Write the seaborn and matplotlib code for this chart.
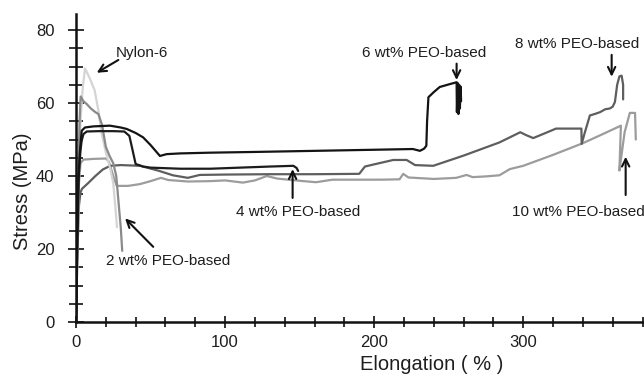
import numpy as np
import pandas as pd
import matplotlib
matplotlib.use("Agg")
import matplotlib.pyplot as plt
from matplotlib.ticker import MultipleLocator
import seaborn as sns

# Stress-strain curves: elongation (%) and stress (MPa) for each sample
nylon_x = [0, 1, 2, 3, 4.5, 6, 9, 12.5, 15, 17, 20, 23, 25, 26.5, 27.5]
nylon_y = [0, 18, 40, 55, 64, 69.5, 67, 63.5, 58, 52, 46.5, 42, 38, 31, 26]

peo2_x = [0, 0.8, 1.6, 2.4, 3.1, 5, 7, 10, 13, 15, 17.5, 20, 22.5, 25, 27, 28.5, 30, 31]
peo2_y = [0, 20, 42, 55, 61.8, 60.5, 59.8, 58.5, 57.5, 57, 54, 48, 45.5, 43.5, 40, 33, 26, 19.5]

peo4_x = [0, 0.8, 1.8, 3, 3.8, 5, 7.2, 15, 25, 32.4, 35.8, 38, 40, 45, 50, 70, 90,
          110, 130, 145.8, 148, 149]
peo4_y = [0, 20, 40, 47, 49.7, 51.5, 52.2, 52.3, 52.3, 52.2, 51, 47, 43.3, 42.6, 42.3,
          42, 42, 42.3, 42.6, 42.8, 42.2, 41.4]

peo6_x = [0, 0.8, 1.6, 2.5, 3.8, 6, 11.6, 22.8, 30, 34, 40, 45, 50, 56.3, 60.8, 70, 90,
          120, 160, 200, 226, 230.7, 233.5, 235, 235.5, 236.4, 240, 244, 250, 255.3,
          255.5, 256, 256.5, 257, 257.5, 258, 258.3]
peo6_y = [0, 20, 38, 46, 52.4, 53.3, 53.6, 53.8, 53.3, 52.9, 51.8, 50.6, 48.5, 45.5, 46,
          46.2, 46.4, 46.6, 46.9, 47.2, 47.4, 46.9, 47.5, 48.3, 55, 61.6, 63, 64.4, 65.1,
          65.7, 57.5, 65.5, 57, 65, 58.5, 64.5, 60.5]

peo8_x = [0, 1, 2, 3, 4, 8, 13, 18, 23, 30, 43, 55, 65, 75, 83, 100, 130, 160, 190,
          193.8, 200, 212.8, 221.8, 227.4, 239.6, 260, 284, 291, 298, 302, 306.7, 315,
          322, 339, 339.2, 341, 344.7, 348, 351.5, 355, 358, 360, 361.5, 363, 364.5,
          366, 367, 367]
peo8_y = [0, 20, 32, 35.5, 36.5, 38, 40, 41.8, 42.8, 43, 42.8, 41.5, 40.2, 39.5, 40.3,
          40.4, 40.5, 40.5, 40.6, 42.6, 43.2, 44.4, 44.4, 43, 42.8, 45.6, 49.2, 50.6, 52,
          51.2, 50.4, 51.8, 53, 53, 48.8, 51.5, 56.6, 57, 57.5, 58.3, 58.5, 59, 60.3, 65,
          67.3, 67.5, 65, 61]

peo10_x = [0, 1, 2, 3, 5, 12, 20, 22, 25, 27.3, 35, 43, 50, 57, 62, 75, 90, 100, 112,
           120, 128, 135, 150, 161, 172, 190, 205, 217, 219.5, 223, 240, 255, 262, 266,
           275, 284, 291, 300, 320, 340, 355, 365.5, 364.5, 366, 368, 371.5, 375, 375.5]
peo10_y = [0, 22, 38, 43.5, 44.5, 44.7, 44.8, 44, 40, 37.3, 37.3, 37.8, 38.6, 39.5, 38.9,
           38.5, 38.6, 38.8, 38.2, 38.8, 40, 39.3, 38.7, 38.3, 39, 39, 39, 39.1, 40.6,
           39.6, 39.2, 39.5, 40.3, 39.7, 39.9, 40.2, 41.9, 42.8, 45.8, 49, 51.8, 53.8,
           41.5, 46, 52, 57.3, 57.3, 50]

series = {
    "10 wt% PEO-based": (peo10_x, peo10_y),
    "8 wt% PEO-based": (peo8_x, peo8_y),
    "Nylon-6": (nylon_x, nylon_y),
    "2 wt% PEO-based": (peo2_x, peo2_y),
    "4 wt% PEO-based": (peo4_x, peo4_y),
    "6 wt% PEO-based": (peo6_x, peo6_y),
}
colors = {
    "10 wt% PEO-based": "#9c9c9c",
    "8 wt% PEO-based": "#5e5e5e",
    "Nylon-6": "#d4d4d4",
    "2 wt% PEO-based": "#8a8a8a",
    "4 wt% PEO-based": "#1c1c1c",
    "6 wt% PEO-based": "#141414",
}

frames = []
for name, (xs, ys) in series.items():
    frames.append(pd.DataFrame({"Elongation": xs, "Stress": ys, "Sample": name}))
df = pd.concat(frames, ignore_index=True)

sns.set_theme(style="ticks")
plt.rcParams["font.family"] = ["Liberation Sans", "DejaVu Sans"]
text_color = "#1e1e1e"

fig = plt.figure(figsize=(6.44, 3.81), dpi=100)
ax = fig.add_axes([76 / 644, 59 / 381, 568 / 644, 308 / 381])

sns.lineplot(data=df, x="Elongation", y="Stress", hue="Sample", palette=colors,
             hue_order=list(series.keys()), sort=False, estimator=None,
             legend=False, linewidth=1.6, ax=ax)

ax.set_xlim(0, 381)
ax.set_ylim(0, 84.4)

for side in ("top", "right"):
    ax.spines[side].set_visible(False)
for side in ("left", "bottom"):
    ax.spines[side].set_linewidth(1.8)
    ax.spines[side].set_color("#111111")

ax.xaxis.set_major_locator(MultipleLocator(100))
ax.xaxis.set_minor_locator(MultipleLocator(20))
ax.yaxis.set_major_locator(MultipleLocator(20))
ax.yaxis.set_minor_locator(MultipleLocator(5))

ax.tick_params(axis="x", which="major", direction="inout", length=9, width=1.2,
               color="#111111", labelsize=12, labelcolor=text_color, pad=5)
ax.tick_params(axis="x", which="minor", direction="inout", length=6.5, width=1.2,
               color="#111111")
ax.tick_params(axis="y", which="major", direction="inout", length=11, width=1.2,
               color="#111111", labelsize=12, labelcolor=text_color, pad=10)
ax.tick_params(axis="y", which="minor", direction="inout", length=9.5, width=1.2,
               color="#111111")

ax.set_xlabel("Elongation ( % )", fontsize=14.5, color=text_color)
ax.set_ylabel("Stress (MPa)", fontsize=14.5, color=text_color)
ax.xaxis.set_label_coords(0.627, -0.108)
ax.yaxis.set_label_coords(-0.078, 0.425)

# Curve labels with pointer arrows
labels = [
    ("Nylon-6", (43.9, 73.6), "center", (28.4, 71.8), (13.9, 68.3)),
    ("2 wt% PEO-based", (20.0, 16.7), "left", (51.8, 20.6), (32.9, 28.4)),
    ("4 wt% PEO-based", (149.2, 30.2), "center", (145.3, 34.0), (145.3, 41.9)),
    ("6 wt% PEO-based", (233.5, 73.8), "center", (255.3, 70.8), (255.3, 66.3)),
    ("8 wt% PEO-based", (336.0, 76.3), "center", (359.3, 73.2), (359.3, 67.2)),
    ("10 wt% PEO-based", (337.0, 30.2), "center", (368.7, 34.8), (368.7, 45.3)),
]
for text, (tx, ty), ha, tail, head in labels:
    ax.text(tx, ty, text, fontsize=11, color=text_color, ha=ha, va="center",
            clip_on=False)
    ax.annotate("", xy=head, xytext=tail,
                arrowprops=dict(arrowstyle="->,head_length=0.45,head_width=0.22",
                                color="#111111", lw=1.5, shrinkA=0, shrinkB=0),
                annotation_clip=False)

fig.savefig("out.png", dpi=100)
